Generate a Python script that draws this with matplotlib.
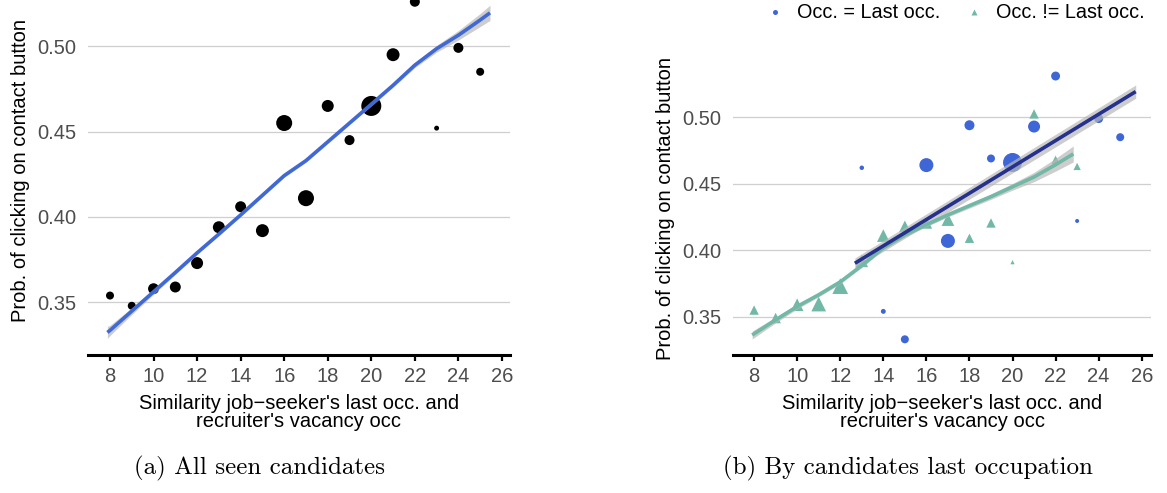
import matplotlib
matplotlib.use("Agg")
import matplotlib.pyplot as plt
import numpy as np

# ---- panel (a): all seen candidates ----
sim_all = [8, 9, 10, 11, 12, 13, 14, 15, 16, 17, 18, 19, 20, 21, 22, 23, 24, 25]
prob_all = [0.354, 0.348, 0.358, 0.359, 0.373, 0.394, 0.406, 0.392, 0.455, 0.411,
            0.465, 0.445, 0.465, 0.495, 0.526, 0.452, 0.499, 0.485]
weight_all = [16, 16, 30, 30, 36, 36, 30, 42, 64, 64, 36, 25, 100, 42, 25, 6, 25, 16]

# smoothed fit with its confidence half-width
fit_x_all = [7.88, 8, 9, 10, 11, 12, 13, 14, 15, 16, 17, 18, 19, 20, 21, 22, 23, 24, 25, 25.45]
fit_y_all = [0.3324, 0.3336, 0.3449, 0.3562, 0.3675, 0.379, 0.390, 0.4012, 0.4127, 0.4242,
             0.4330, 0.444, 0.455, 0.466, 0.4771, 0.4889, 0.4985, 0.5064, 0.5153, 0.5195]
fit_se_all = [0.0035, 0.003, 0.002, 0.0015, 0.0012, 0.001, 0.001, 0.001, 0.001, 0.001,
              0.001, 0.001, 0.001, 0.001, 0.0012, 0.0015, 0.002, 0.0028, 0.0038, 0.0045]

# ---- panel (b): by candidates' last occupation ----
sim_same = [13, 14, 15, 16, 17, 18, 19, 20, 21, 22, 23, 24, 25]
prob_same = [0.462, 0.354, 0.333, 0.464, 0.407, 0.494, 0.469, 0.466, 0.493, 0.531, 0.422, 0.499, 0.485]
weight_same = [5, 6, 16, 49, 49, 25, 16, 90, 36, 20, 4, 20, 16]

sim_diff = [8, 9, 10, 11, 12, 13, 14, 15, 16, 17, 18, 19, 20, 21, 22, 23]
prob_diff = [0.355, 0.349, 0.359, 0.3595, 0.373, 0.392, 0.411, 0.418, 0.4205, 0.423,
             0.409, 0.4205, 0.391, 0.5025, 0.468, 0.463]
weight_diff = [20, 25, 36, 49, 56, 36, 36, 30, 30, 36, 20, 20, 4, 20, 16, 12]

fit_x_same = [12.68, 25.72]
fit_y_same = [0.3902, 0.5193]
fit_se_same = [0.004, 0.005]

fit_x_diff = [7.91, 9, 10, 11, 12, 13, 14, 15, 16, 17, 18, 19, 20, 21, 22, 22.82]
fit_y_diff = [0.3362, 0.3476, 0.3577, 0.3665, 0.3762, 0.3885, 0.4018, 0.4115, 0.4192,
              0.4266, 0.4335, 0.4403, 0.4477, 0.4551, 0.4643, 0.4724]
fit_se_diff = [0.003, 0.0022, 0.0018, 0.0015, 0.0015, 0.0015, 0.0015, 0.0015, 0.0015,
               0.0015, 0.0018, 0.002, 0.0025, 0.0035, 0.0048, 0.006]

legend_labels = ["Occ. = Last occ.", "Occ. != Last occ."]
y_ticks = [0.35, 0.40, 0.45, 0.50]
x_ticks = [8, 10, 12, 14, 16, 18, 20, 22, 24, 26]
x_title = "Similarity job\u2212seeker's last occ. and\nrecruiter's vacancy occ"
y_title = "Prob. of clicking on contact button"
captions = ["(a) All seen candidates", "(b) By candidates last occupation"]

BLUE_PT = "#3f66d6"
BLUE_LINE = "#4169d4"
TEAL = "#72b8a6"
NAVY = "#25318c"
BAND = "#b8b8b8"
TICK_GREY = "#4d4d4d"

plt.rcParams["font.family"] = ["Liberation Sans", "DejaVu Sans"]

fig = plt.figure(figsize=(11.67, 4.93), dpi=100)
W, H = 1167, 493


def px_axes(left, top, right, bottom):
    return fig.add_axes([left / W, 1 - bottom / H, (right - left) / W, (bottom - top) / H])


def size_from_weight(w, scale=1.0):
    # marker area in pt^2 from a relative weight
    d_px = 2 * np.sqrt(np.asarray(w, dtype=float)) * scale
    return (d_px * 0.72) ** 2


def style_axes(ax, xlim, ylim):
    ax.set_xlim(*xlim)
    ax.set_ylim(*ylim)
    ax.set_xticks(x_ticks)
    ax.set_yticks(y_ticks)
    ax.set_yticklabels([f"{v:.2f}" for v in y_ticks])
    for s in ("top", "right", "left"):
        ax.spines[s].set_visible(False)
    ax.spines["bottom"].set_linewidth(2.2)
    ax.spines["bottom"].set_color("black")
    ax.grid(axis="y", color="#cfcfcf", linewidth=0.9)
    ax.set_axisbelow(True)
    ax.tick_params(axis="y", length=0, pad=8.5, labelsize=14.5, labelcolor=TICK_GREY)
    ax.tick_params(axis="x", length=4.5, width=1.6, color="black", pad=4,
                   labelsize=14.5, labelcolor=TICK_GREY)
    ax.set_xlabel(x_title, fontsize=14.5, linespacing=0.95, labelpad=6)
    ax.set_ylabel(y_title, fontsize=14.5, labelpad=5)


def band(ax, x, y, se, color):
    x = np.asarray(x)
    y = np.asarray(y)
    se = np.asarray(se)
    ax.fill_between(x, y - se, y + se, color=BAND, alpha=0.7, linewidth=0, zorder=3)
    ax.plot(x, y, color=color, linewidth=2.6, zorder=4, solid_capstyle="butt",
            solid_joinstyle="round")


# panel (a)
ax1 = px_axes(88, -15, 510, 355)
style_axes(ax1, (6.99, 26.37), (0.3192, 0.5358))
ax1.scatter(sim_all, prob_all, s=size_from_weight(weight_all), color="black",
            linewidths=0, zorder=2, clip_on=False)
band(ax1, fit_x_all, fit_y_all, fit_se_all, BLUE_LINE)

# panel (b)
ax2 = px_axes(733, 63, 1151, 355)
style_axes(ax2, (7.02, 26.43), (0.3212, 0.5408))
ax2.scatter(sim_same, prob_same, s=size_from_weight(weight_same), color=BLUE_PT,
            marker="o", linewidths=0, zorder=2)
ax2.scatter(sim_diff, prob_diff, s=size_from_weight(weight_diff, 1.05), color=TEAL,
            marker="^", linewidths=0, zorder=2)
band(ax2, fit_x_diff, fit_y_diff, fit_se_diff, TEAL)
band(ax2, fit_x_same, fit_y_same, fit_se_same, NAVY)

h1 = ax2.scatter([], [], s=(5 * 0.72) ** 2, color=BLUE_PT, marker="o", linewidths=0)
h2 = ax2.scatter([], [], s=(6 * 0.72) ** 2, color=TEAL, marker="^", linewidths=0)
fig.legend([h1, h2], legend_labels, loc="center", bbox_to_anchor=(955 / W, 1 - 12 / H),
           ncol=2, frameon=False, fontsize=14.3, handletextpad=0.6, columnspacing=1.2,
           handlelength=1.0, borderaxespad=0)

fig.text(260 / W, 1 - 468 / H, captions[0], family="cmr10", fontsize=18,
         ha="center", va="center")
fig.text(908 / W, 1 - 468 / H, captions[1], family="cmr10", fontsize=18,
         ha="center", va="center")

fig.savefig("out.png", dpi=100)
